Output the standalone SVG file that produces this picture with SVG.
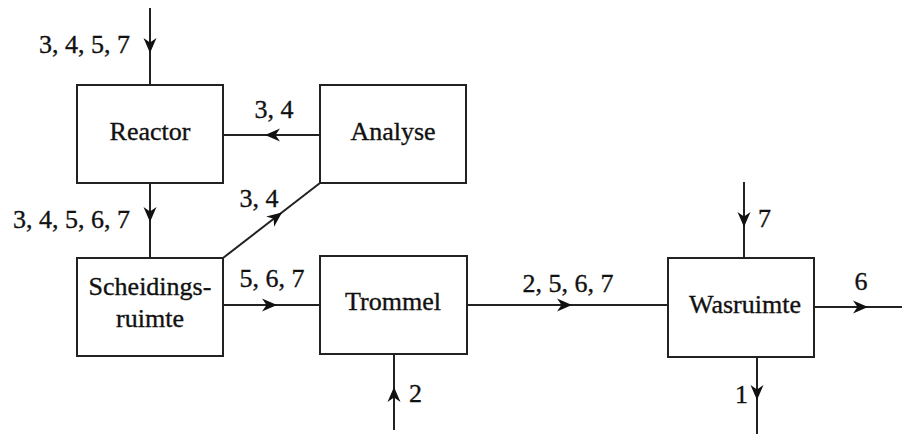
<svg xmlns="http://www.w3.org/2000/svg" xmlns:xlink="http://www.w3.org/1999/xlink" width="902" height="434" viewBox="0 0 902 434">
<style>
.box{fill:#fff;stroke:#222;stroke-width:2}
.ln{fill:none;stroke:#222;stroke-width:2}
text{font-family:"Liberation Serif","Times New Roman",serif;font-size:26px;fill:#111;stroke:#111;stroke-width:0.35}
.c{text-anchor:middle}
.r{text-anchor:end}
</style>
<defs>
<path id="ah" d="M0,0 L-15,-6.5 L-10.5,0 L-15,6.5 Z" fill="#111"/>
</defs>
<rect width="902" height="434" fill="#fff"/>
<g id="connectors">
<line class="ln" x1="150" y1="8" x2="150" y2="85"/>
<use xlink:href="#ah" transform="translate(150,53) rotate(90)"/>
<text class="r" x="130" y="53">3, 4, 5, 7</text>
<line class="ln" x1="150" y1="183" x2="150" y2="258"/>
<use xlink:href="#ah" transform="translate(150,222) rotate(90)"/>
<text class="r" x="130" y="228">3, 4, 5, 6, 7</text>
<line class="ln" x1="320" y1="135" x2="223" y2="135"/>
<use xlink:href="#ah" transform="translate(265,135) rotate(180)"/>
<text class="c" x="274" y="118">3, 4</text>
<line class="ln" x1="223" y1="258" x2="320" y2="183"/>
<use xlink:href="#ah" transform="translate(282,212.4) rotate(-37.7)"/>
<text class="c" x="259" y="207">3, 4</text>
<line class="ln" x1="223" y1="305" x2="320" y2="305"/>
<use xlink:href="#ah" transform="translate(277,305)"/>
<text class="c" x="272" y="287">5, 6, 7</text>
<line class="ln" x1="467" y1="305" x2="668" y2="305"/>
<use xlink:href="#ah" transform="translate(572,305)"/>
<text class="c" x="568" y="292">2, 5, 6, 7</text>
<line class="ln" x1="394" y1="430" x2="394" y2="355"/>
<use xlink:href="#ah" transform="translate(394,387) rotate(-90)"/>
<text x="409" y="402">2</text>
<line class="ln" x1="744" y1="182" x2="744" y2="258"/>
<use xlink:href="#ah" transform="translate(744,227) rotate(90)"/>
<text x="758" y="227">7</text>
<line class="ln" x1="814" y1="307" x2="902" y2="307"/>
<use xlink:href="#ah" transform="translate(868,307)"/>
<text class="c" x="861" y="290">6</text>
<line class="ln" x1="757" y1="357" x2="757" y2="434"/>
<use xlink:href="#ah" transform="translate(757,400) rotate(90)"/>
<text class="r" x="748" y="403">1</text>
</g>
<g id="reactor">
<rect class="box" x="77" y="85" width="146" height="98"/>
<text class="c" x="150" y="140">Reactor</text>
</g>
<g id="analyse">
<rect class="box" x="320" y="85" width="146" height="98"/>
<text class="c" x="393" y="140">Analyse</text>
</g>
<g id="scheidingsruimte">
<rect class="box" x="77" y="258" width="146" height="98"/>
<text class="c" x="150" y="295">Scheidings-</text>
<text class="c" x="150" y="327">ruimte</text>
</g>
<g id="trommel">
<rect class="box" x="320" y="256" width="147" height="98"/>
<text class="c" x="393" y="310">Trommel</text>
</g>
<g id="wasruimte">
<rect class="box" x="668" y="258" width="146" height="99"/>
<text class="c" x="745" y="313">Wasruimte</text>
</g>
</svg>
